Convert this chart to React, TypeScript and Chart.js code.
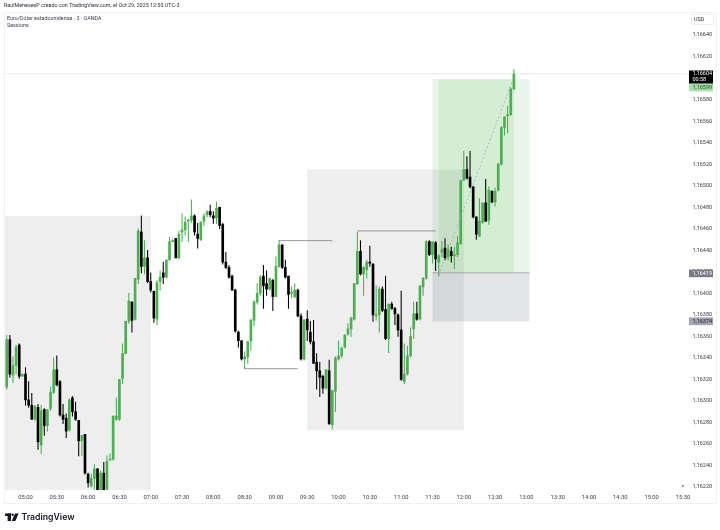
import React, { useEffect, useRef } from "react";
import { Chart, registerables } from "chart.js";

Chart.register(...registerables);

const firstBar = -7;
const opens = [
116328,116313,116357,116324,116333,116352,116323,116325,116301,116296,116283,116294,116259,116292,116277,116293,116308,116329,116318,116287,116284,116273,116303,116290,116282,116263,116269,116232,116221,116228,116237,116215,116233,116218,116245,116246,116283,116283,116321,116344,116374,116392,116376,116413,116457,116425,116433,116411,116402,116376,116411,116419,116415,116431,116448,116451,116433,
116457,116459,116467,116468,116472,116455,116450,116467,116473,116476,116472,116470,116480,116464,116429,116424,116416,116403,116364,116356,116339,116341,116356,116375,116392,116400,116416,116409,116404,116412,116397,116425,116445,116424,116416,116400,116397,116403,116379,116339,
116376,116364,116355,116336,116328,116323,116312,116328,116278,116309,116339,116342,116350,116362,116367,116376,116409,116439,116418,116422,116429,116427,116379,116380,116404,116385,116358,116390,116386,116380,116366,116318,116325,116342,116367,116381,116376,116406,116414,
116448,116436,116447,116429,116438,116442,116434,116439,116435,116436,116446,116505,116515,116508,116499,116471,116453,116466,116484,116468,116495,116485,116496,116520,116554,116565,116566,116590];
const closes = [
116313,116357,116325,116333,116350,116323,116325,116301,116296,116283,116295,116262,116291,116277,116292,116308,116329,116315,116287,116283,116272,116301,116290,116283,116263,116268,116233,116224,116228,116237,116215,116233,116217,116244,116246,116286,116286,116320,116344,116374,116393,116375,116414,116458,116425,116433,116411,116403,116377,116410,116415,116415,116431,116448,116449,116433,116455,
116459,116466,116468,116472,116457,116451,116466,116472,116476,116473,116470,116479,116463,116429,116424,116415,116403,116365,116356,116339,116341,116355,116375,116392,116400,116415,116407,116404,116414,116397,116425,116445,116424,116415,116399,116401,116403,116379,116339,116375,
116366,116355,116335,116328,116322,116312,116329,116279,116310,116340,116342,116349,116361,116367,116377,116409,116439,116418,116424,116429,116428,116380,116380,116404,116384,116358,116390,116386,116381,116366,116320,116325,116342,116360,116381,116376,116407,116414,116448,
116436,116448,116432,116435,116441,116433,116441,116435,116436,116447,116505,116515,116507,116499,116471,116455,116467,116484,116467,116496,116485,116495,116520,116554,116564,116566,116590,116604];
const highs = [
116328,116361,116361,116341,116352,116353,116325,116331,116318,116307,116296,116297,116296,116293,116292,116313,116340,116342,116319,116297,116288,116302,116304,116299,116282,116268,116269,116233,116232,116241,116237,116235,116243,116249,116251,116286,116303,116320,116353,116374,116400,116392,116414,116460,116472,116449,116440,116419,116402,116412,116421,116429,116431,116452,116450,116451,116458,
116474,116471,116469,116487,116473,116465,116467,116474,116477,116482,116476,116485,116480,116465,116438,116426,116417,116404,116365,116356,116346,116356,116376,116393,116409,116417,116426,116421,116414,116413,116434,116449,116445,116431,116416,116406,116409,116404,116381,116376,
116384,116374,116375,116344,116336,116324,116329,116338,116310,116341,116356,116350,116362,116372,116378,116409,116457,116449,116425,116431,116444,116428,116407,116406,116406,116416,116390,116392,116387,116381,116402,116353,116351,116368,116392,116392,116407,116415,116449,
116449,116448,116448,116436,116448,116451,116445,116443,116443,116453,116505,116532,116527,116532,116499,116471,116488,116484,116506,116499,116495,116498,116521,116555,116564,116574,116591,116608];
const lows = [
116313,116311,116322,116317,116325,116321,116323,116296,116294,116283,116282,116255,116251,116268,116272,116291,116307,116314,116286,116279,116266,116272,116286,116282,116249,116249,116232,116220,116220,116218,116215,116215,116217,116215,116245,116245,116282,116282,116316,116344,116372,116364,116375,116409,116419,116418,116410,116401,116373,116371,116403,116409,116414,116431,116448,116433,116432,
116448,116454,116448,116466,116454,116442,116449,116463,116471,116471,116465,116465,116460,116427,116423,116414,116403,116364,116350,116338,116330,116335,116347,116370,116390,116398,116386,116398,116403,116384,116397,116424,116423,116414,116386,116396,116396,116378,116338,116338,
116356,116353,116335,116311,116304,116307,116311,116278,116274,116290,116338,116340,116349,116361,116360,116375,116408,116417,116398,116414,116425,116374,116375,116364,116383,116357,116345,116385,116371,116360,116319,116316,116324,116341,116358,116375,116375,116398,116413,
116435,116428,116421,116416,116434,116431,116431,116429,116423,116434,116446,116505,116506,116498,116470,116450,116453,116465,116467,116464,116484,116481,116495,116519,116547,116549,116565,116589];

const tickLabels = ["05:00","05:30","06:00","06:30","07:00","07:30","08:00","08:30","09:00","09:30","10:00","10:30","11:00","11:30","12:00","12:30","13:00","13:30","14:00","14:30","15:00","15:30"];
const priceTicks = [116640,116620,116600,116580,116560,116540,116520,116500,116480,116460,116440,116420,116400,116380,116360,116340,116320,116300,116280,116260,116240,116220];

const levelLow = [[70, 116330], [87, 116330]];
const levelMid = [[81, 116449], [98, 116449]];
const levelHigh = [[106, 116458], [131, 116458]];
const entryLine = [[130, 116419], [161, 116419]];
const pathLine = [[132, 116417], [156, 116601]];
const lastPriceLine = [[-8, 116604], [212, 116604]];
const markerDot = [[210, 116221]];

const GRAY = "rgba(120,123,134,0.13)";
const GRAY2 = "rgba(120,123,134,0.2)";
const GREEN = "rgba(76,175,80,0.13)";
const zones: [number, number, number, number, string][] = [
  [-8, 40, 116472, 116200, GRAY],
  [90, 140, 116515, 116273, GRAY],
  [130, 161, 116599, 116419, GREEN],
  [132, 156, 116599, 116419, GREEN],
  [130, 161, 116419, 116374, GRAY2],
];

const priceText = (v: number) => (v / 100000).toFixed(5).replace(".", ",");
const toPts = (a: number[][]) => a.map(([x, y]) => ({ x, y }));
const FONT = "Roboto, 'Liberation Sans', sans-serif";

const zonesPlugin = {
  id: "zones",
  beforeDatasetsDraw(chart: any) {
    const { ctx, chartArea: a, scales: { x, y } } = chart;
    ctx.save();
    ctx.beginPath();
    ctx.rect(a.left, a.top, a.right - a.left, a.bottom - a.top);
    ctx.clip();
    for (const [k0, k1, top, bottom, color] of zones) {
      const px0 = x.getPixelForValue(k0);
      const px1 = x.getPixelForValue(k1);
      const py0 = y.getPixelForValue(top);
      const py1 = y.getPixelForValue(bottom);
      ctx.fillStyle = color;
      ctx.fillRect(px0, py0, px1 - px0, py1 - py0);
    }
    ctx.restore();
  },
};

const framePlugin = {
  id: "frame",
  afterDraw(chart: any) {
    const { ctx } = chart;
    ctx.save();
    ctx.strokeStyle = "#f0f1f5";
    ctx.lineWidth = 1;
    ctx.strokeRect(4.5, 12.5, 712, 491);

    ctx.textBaseline = "middle";
    ctx.textAlign = "left";
    ctx.font = `5.4px ${FONT}`;
    ctx.fillStyle = "#2a2e39";
    ctx.fillText("RaulMenesesP creado con TradingView.com, el Oct 29, 2025 12:50 UTC-3", 4, 5.5);
    ctx.fillStyle = "#3a3e49";
    ctx.fillText("Euro/Dólar estadounidense · 3 · OANDA", 7, 18.5);
    ctx.fillText("Sessions", 7, 26);

    // price-axis unit box
    ctx.strokeStyle = "#eceef2";
    ctx.strokeRect(691.5, 14.5, 22, 10);
    ctx.fillStyle = "#2a2e39";
    ctx.fillText("USD", 694, 19.8);

    const label = (top: number, h: number, bg: string, fg: string, text: string, sub?: string) => {
      ctx.fillStyle = bg;
      ctx.fillRect(689, top, 24, h);
      ctx.fillStyle = fg;
      ctx.textAlign = "left";
      ctx.font = `5.5px ${FONT}`;
      ctx.fillText(text, 692.5, top + (sub ? 3.6 : h / 2 + 0.2));
      if (sub) ctx.fillText(sub, 692.5, top + 9.6);
    };
    label(70.5, 13.2, "#000000", "#ffffff", priceText(116604), "00:58");
    label(83.7, 7.6, "#a9dcab", "#14501a", priceText(116599));
    label(269.6, 7.6, "#787b86", "#ffffff", priceText(116419));
    label(317.4, 7.8, "#a3a6af", "#1a1c24", priceText(116374));

    // TradingView wordmark
    ctx.fillStyle = "#131722";
    ctx.fillRect(5, 513.5, 6, 2.4);
    ctx.fillRect(7.6, 513.5, 3.4, 7.5);
    ctx.beginPath();
    ctx.arc(12.6, 514.7, 1.2, 0, Math.PI * 2);
    ctx.fill();
    ctx.beginPath();
    ctx.moveTo(15, 513.5);
    ctx.lineTo(18.6, 513.5);
    ctx.lineTo(15.4, 521);
    ctx.lineTo(11.8, 521);
    ctx.closePath();
    ctx.fill();
    ctx.font = `600 8.7px Inter, ${FONT}`;
    ctx.textBaseline = "middle";
    ctx.fillText("TradingView", 21.5, 517.3);
    ctx.restore();
  },
};

export default function App() {
  const ref = useRef<HTMLCanvasElement>(null);
  useEffect(() => {
    const bars = opens.map((_, i) => firstBar + i);
    const up = opens.map((o, i) => closes[i] >= o);
    const lineDs = (data: number[][], color: string, width: number, dash: number[] = []) => ({
      type: "line" as const,
      data: toPts(data),
      borderColor: color,
      borderWidth: width,
      borderDash: dash,
      pointRadius: 0,
      order: 1,
      parsing: false as const,
    });
    const chart = new Chart(ref.current!, {
      type: "bar",
      data: {
        datasets: [
          {
            data: bars.map((k, i) => ({ x: k, y: [lows[i], highs[i]] })),
            backgroundColor: up.map((u) => (u ? "#4caf50" : "#000000")),
            barThickness: 0.4,
            grouped: false,
            borderWidth: 0,
            order: 3,
          },
          {
            data: bars.map((k, i) => ({ x: k, y: [opens[i], closes[i]] })),
            backgroundColor: up.map((u) => (u ? "#4caf50" : "#000000")),
            barThickness: 2,
            minBarLength: 1,
            grouped: false,
            borderWidth: 0,
            order: 2,
          },
          lineDs(levelLow, "#55585f", 0.6),
          lineDs(levelMid, "#55585f", 0.6),
          lineDs(levelHigh, "#55585f", 0.6),
          lineDs(entryLine, "#7a7d88", 0.6),
          lineDs(pathLine, "#a4a7b0", 0.7, [2, 2]),
          lineDs(lastPriceLine, "#bcbfc7", 0.7, [1, 1]),
          { ...lineDs(markerDot, "#131722", 0), pointRadius: 0.8, pointBackgroundColor: "#131722" },
        ] as any,
      },
      options: {
        animation: false,
        responsive: false,
        devicePixelRatio: 1,
        layout: { padding: { left: 4, right: 0, top: 12, bottom: 0 } },
        plugins: { legend: { display: false }, tooltip: { enabled: false } },
        scales: {
          x: {
            type: "linear",
            offset: false,
            min: -6.87,
            max: 211.3,
            grid: { display: false, drawTicks: false, offset: false },
            border: { display: false },
            afterBuildTicks: (s: any) => {
              s.ticks = tickLabels.map((_, i) => ({ value: i * 10 }));
            },
            afterFit: (s: any) => {
              s.height = 40;
              s.paddingLeft = 0;
              s.paddingRight = 0;
            },
            ticks: {
              autoSkip: false,
              maxRotation: 0,
              padding: 4,
              color: "#3c404b",
              font: { size: 5.8, family: FONT },
              callback: (v: any) => tickLabels[Number(v) / 10],
            },
          },
          y: {
            position: "right",
            min: 116217.3,
            max: 116661.4,
            grid: { display: false, drawTicks: false },
            border: { display: false },
            afterBuildTicks: (s: any) => {
              s.ticks = priceTicks.map((value) => ({ value }));
            },
            afterFit: (s: any) => {
              s.width = 33;
              s.paddingTop = 0;
              s.paddingBottom = 0;
            },
            ticks: {
              autoSkip: false,
              padding: 5.5,
              color: "#3c404b",
              font: { size: 5.5, family: FONT },
              callback: (v: any) => priceText(Number(v)),
            },
          },
        },
      },
      plugins: [zonesPlugin, framePlugin],
    } as any);
    return () => chart.destroy();
  }, []);
  return (
    <canvas
      ref={ref}
      width={720}
      height={530}
      style={{ position: "absolute", left: 0, top: 0, display: "block" }}
    />
  );
}
